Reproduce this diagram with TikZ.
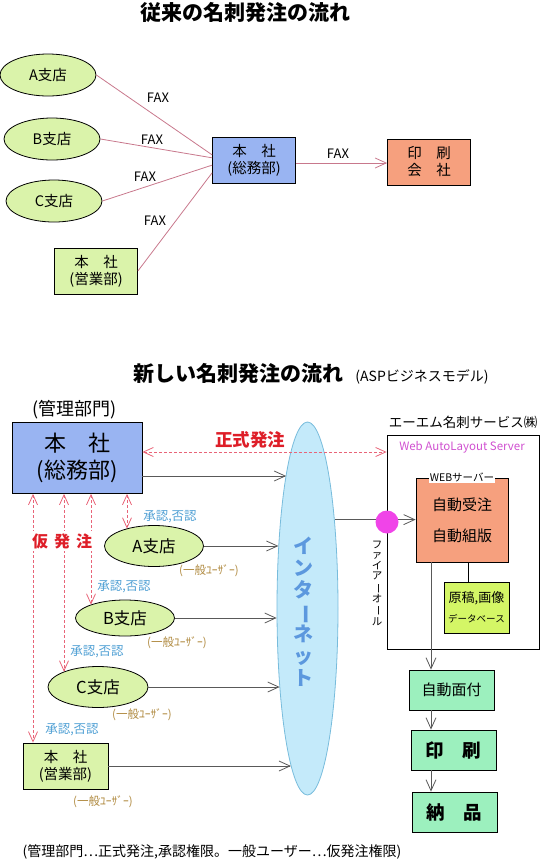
\documentclass[tikz,border=0pt]{standalone}
\usepackage{fontspec}
\setmainfont{Noto Sans CJK JP}
\usepackage{graphicx}
\usetikzlibrary{arrows.meta,positioning,shapes.geometric}

\definecolor{leaf}{RGB}{218,243,170}
\definecolor{sky}{RGB}{153,180,242}
\definecolor{salmon}{RGB}{246,160,126}
\definecolor{mint}{RGB}{156,240,190}
\definecolor{lime}{RGB}{212,246,102}
\definecolor{netfill}{RGB}{196,234,250}
\definecolor{netline}{RGB}{120,188,220}
\definecolor{netblue}{RGB}{92,152,222}
\definecolor{faxline}{RGB}{200,120,140}
\definecolor{ordred}{RGB}{222,30,40}
\definecolor{dashred}{RGB}{232,100,120}
\definecolor{okblue}{RGB}{80,160,212}
\definecolor{userbrn}{RGB}{176,138,64}
\definecolor{fwpink}{RGB}{240,68,232}
\definecolor{srvpink}{RGB}{208,80,208}

\newcommand{\fsz}[2]{\fontsize{#1}{#2}\selectfont}
\newcommand{\vbar}{\rotatebox[origin=c]{-90}{ー}}

\begin{document}
\begin{tikzpicture}[x=1pt, y=-1pt, line width=0.8pt,
  shop/.style={ellipse, draw, fill=leaf, minimum width=96pt, minimum height=42pt,
               inner sep=0pt, font=\fsz{14.5}{17}},
  shop2/.style={shop, minimum width=99pt, minimum height=41pt, font=\fsz{16.5}{18}},
  cbox/.style={draw, minimum width=83pt, minimum height=46pt, inner sep=2pt,
               align=center, font=\fsz{14.5}{17}},
  flow/.style={draw, fill=mint, minimum width=85pt, minimum height=40pt, inner sep=2pt},
  fax/.style={draw=faxline},
  lbl/.style={font=\fsz{13}{15}},
  arr/.style={-{Straight Barb[length=11pt,width=10pt]}, draw=black!65},
  karr/.style={{Straight Barb[length=10pt,width=9pt]}-{Straight Barb[length=10pt,width=9pt]},
               draw=dashred, dash pattern=on 3pt off 2pt},
  ok/.style={font=\fsz{12.5}{14}, text=okblue},
  user/.style={font=\fsz{11.5}{13}, text=userbrn},
  ttl/.style={font=\bfseries\fsz{21}{24}},
]
\useasboundingbox (0,0) rectangle (540,860);

% --- Traditional flow ---
\node[ttl] (title1) at (245,12) {従来の名刺発注の流れ};
\node[shop] (a1) at (48,75) {A支店};
\node[shop] (b1) at (52,139) {B支店};
\node[shop] (c1) at (54,201) {C支店};
\node[cbox, fill=leaf] (eigyo1) at (96,271) {本　社\\(営業部)};
\node[cbox, fill=sky] (somu1) at (254,160) {本　社\\(総務部)};
\node[cbox, fill=salmon] (print1) at (429,162) {印　刷\\会　社};

\draw[fax] (a1.east) -- (somu1.173);
\draw[fax] (b1.east) -- (somu1.177);
\draw[fax] (c1.east) -- (somu1.187);
\draw[fax] (eigyo1.east) -- (somu1.197);
\draw[arr, draw=faxline] ([yshift=-3pt]somu1.east) -- ([yshift=-3pt]somu1.east -| print1.west);

\node[lbl] (fa) at (158,98) {FAX};
\node[lbl] (fb) at (152,140) {FAX};
\node[lbl] (fc) at (145,177) {FAX};
\node[lbl] (fd) at (155,221) {FAX};
\node[lbl] (fp) at (338,154) {FAX};

% --- New flow (ASP) ---
\node[ttl] (title2) at (238,373) {新しい名刺発注の流れ};
\node[font=\fsz{14}{16}, anchor=base west] (asp) at ([xshift=5pt]title2.base east) {(ASPビジネスモデル)};
\node[font=\fsz{18}{20}] (kanri) at (75,410) {(管理部門)};
\node[cbox, fill=sky, minimum width=130pt, minimum height=71pt, font=\fsz{22}{27}] (somu) at (77,458) {本　社\\(総務部)};

\node[ellipse, draw=netline, fill=netfill, minimum width=61pt, minimum height=373pt,
      inner sep=0pt] (net) at (307.5,608.5) {};
\node[font=\bfseries\fsz{20}{22}, text=netblue, align=center] (netlbl) at (303,612)
  {イ\\ン\\タ\\\vbar\\ネ\\ッ\\ト};

\node[shop2] (a2) at (154,546) {A支店};
\node[shop2, minimum height=36pt] (b2) at (125,618) {B支店};
\node[shop2, minimum width=100pt] (c2) at (98,687) {C支店};
\node[cbox, fill=leaf, minimum width=85pt] (eigyo2) at (65.5,766) {本　社\\(営業部)};

\node[user] (ua) at (209,571) {(一般ﾕｰｻﾞｰ)};
\node[user] (ub) at (177,643) {(一般ﾕｰｻﾞｰ)};
\node[user] (uc) at (142,715) {(一般ﾕｰｻﾞｰ)};
\node[user] (ue) at (103,802) {(一般ﾕｰｻﾞｰ)};

\node[ok] (oa) at (170,517) {承認,否認};
\node[ok] (ob) at (124,587) {承認,否認};
\node[ok] (oc) at (97,652) {承認,否認};
\node[ok] (oe) at (72,730) {承認,否認};

% order lines to the internet
\coordinate (s0) at ([yshift=-18pt]somu.east);
\draw[arr] (s0) -- (s0 -| net.99);
\draw[arr] (a2.east) -- (a2.east -| net.115);
\draw[arr] (b2.east) -- (b2.east -| net.197);
\draw[arr] (c2.east) -- (c2.east -| net.251);
\draw[arr] (eigyo2.east) -- (eigyo2.east -| net.264);

% provisional orders
\coordinate (k1) at ([xshift=50pt]somu.south);
\coordinate (k2) at ([xshift=14pt]somu.south);
\coordinate (k3) at ([xshift=-13pt]somu.south);
\coordinate (k4) at ([xshift=-44pt]somu.south);
\draw[karr] (k1) -- (k1 |- a2.148);
\draw[karr] (k2) -- (k2 |- b2.159);
\draw[karr] (k3) -- (k3 |- c2.156);
\draw[karr] (k4) -- (k4 |- eigyo2.north);
\node[fill=white, inner sep=2pt, text=ordred, font=\bfseries\fsz{16}{18}] (kari) at (62,541)
  {仮\hspace{6pt}発\hspace{6pt}注};

% --- Service provider ---
\node[draw, minimum width=152pt, minimum height=214pt, inner sep=0pt] (aem) at (463,542) {};
\node[font=\fsz{13.5}{15}] (aemlbl) at (463,422) {エーエム名刺サービス㈱};
\node[font=\fsz{11.5}{13}, text=srvpink] (wals) at (462,447) {Web AutoLayout Server};

\coordinate (ord) at ([yshift=6pt]somu.east);
\draw[karr] (ord) -- (ord -| aem.west);
\node[font=\bfseries\fsz{17.5}{19}, text=ordred] (seishiki) at (250,440) {正式発注};

\node[draw, fill=salmon, minimum width=92pt, minimum height=84pt, align=center,
      font=\fsz{15}{31}] (websv) at (462,520) {自動受注\\自動組版};
\node[fill=white, inner sep=1pt, font=\fsz{10.5}{12}] (websvlbl) at (websv.north) {WEBサーバー};
\node[draw, fill=lime, minimum width=65pt, minimum height=51pt, align=center,
      font=\fsz{13}{20}] (db) at (476.5,607.5) {原稿,画像\\{\fsz{9.5}{20}データベース}};
\draw ([xshift=6pt]websv.south) -- ([xshift=6pt]websv.south |- db.north);

\draw[arr] (net.73) -- (net.73 -| websv.west);
\node[circle, fill=fwpink, minimum size=23pt, inner sep=0pt] (fw) at (387,522) {};
\node[font=\fsz{10.5}{10.6}, align=center, anchor=north] (fwlbl) at (377,537)
  {フ\\ァ\\イ\\ア\\\vbar\\オ\\\vbar\\ル};

\node[flow, font=\fsz{15}{17}] (menzuke) at (451.5,690) {自動面付};
\node[flow, font=\bfseries\fsz{18.5}{20}] (insatsu) at (453.5,750) {印　刷};
\node[flow, font=\bfseries\fsz{18.5}{20}] (nouhin) at (454.5,812) {納　品};

\coordinate (col) at ([xshift=-31pt]websv.south);
\draw[arr] (col) -- (col |- menzuke.north);
\draw[arr] (col |- menzuke.south) -- (col |- insatsu.north);
\draw[arr] (col |- insatsu.south) -- (col |- nouhin.north);

\node[font=\fsz{14}{16}] (note) at (212,852) {(管理部門⋯正式発注,承認権限。一般ユーザー⋯仮発注権限)};
\end{tikzpicture}
\end{document}
